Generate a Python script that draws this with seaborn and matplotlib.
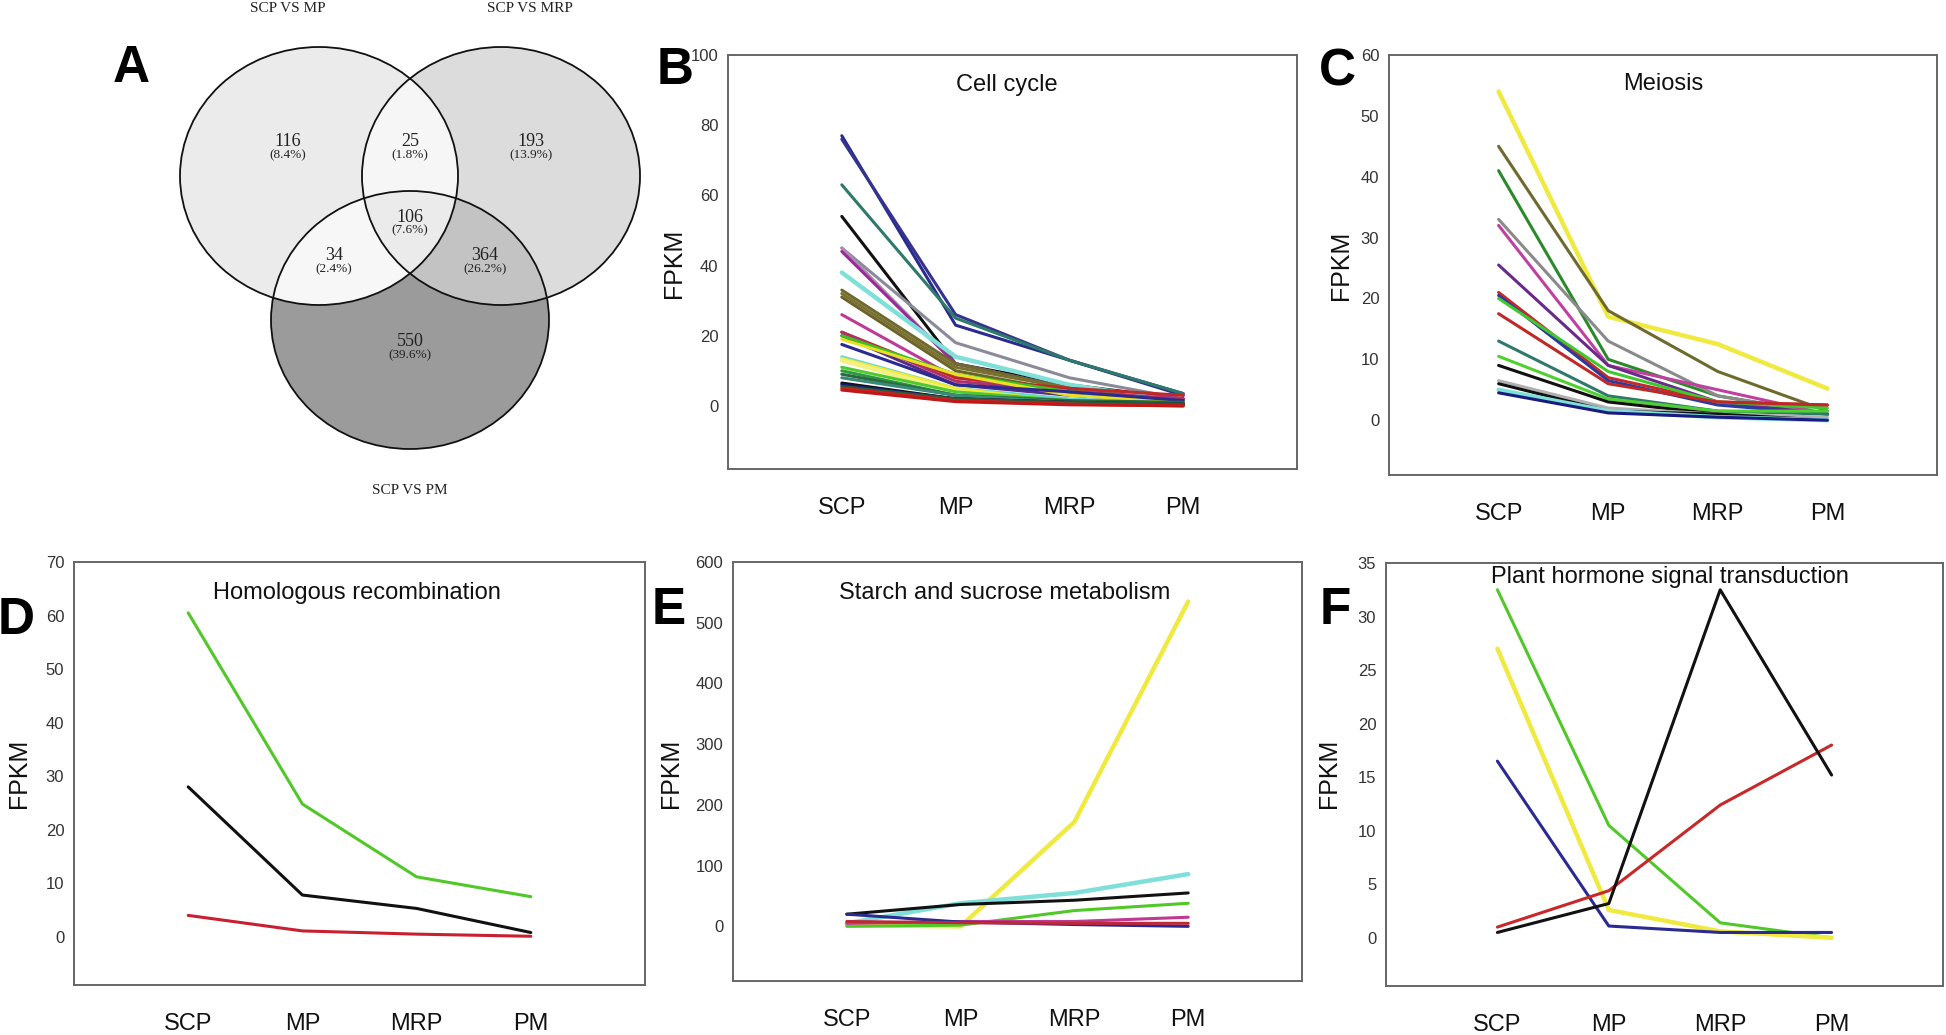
import numpy as np
import pandas as pd
import seaborn as sns
import matplotlib.pyplot as plt
from matplotlib.patches import Ellipse

# ================= DATA =================
STAGES = ['SCP', 'MP', 'MRP', 'PM']

venn_sets = ['SCP VS MP', 'SCP VS MRP', 'SCP VS PM']
# regions: MP only, MP&MRP, MRP only, MP&PM, all, MRP&PM, PM only
venn_counts = [116, 25, 193, 34, 106, 364, 550]
venn_pcts = ['8.4%', '1.8%', '13.9%', '2.4%', '7.6%', '26.2%', '39.6%']

cell_cycle = [
    [77, 23, 13, 3], [76, 26, 13, 3.5], [63, 25, 13, 3.5], [54, 12, 6, 2],
    [45, 18, 8, 2], [45, 12, 5, 1.5], [44, 12, 5, 2], [38, 14, 6, 1],
    [33, 12, 5, 1], [32, 11, 5, 1], [31, 10, 4, 0.5], [26, 8, 4, 1],
    [21, 8, 5, 3], [21, 7, 4, 2], [20, 6, 3, 1], [20, 9, 4, 1],
    [19, 9, 3, 1], [17.5, 6, 4, 1.5], [14, 5, 2, 0.5], [13.5, 5, 1, 0],
    [13, 4, 1, 0], [11, 4, 1.5, 0.5], [10, 3, 1, 0.3], [9, 3, 1.5, 1],
    [8, 3, 1, 0.5], [6.5, 2, 1, 0.5], [6, 2, 1, 0.3], [5.5, 2, 1, 0.5],
    [5, 1.5, 0.5, 0], [4.5, 1.2, 0.3, 0],
]
cell_cycle_colors = [
    '#2b2b8f', '#34348f', '#2e7a6a', '#111111',
    '#8a8a99', '#b08ab0', '#9a2a9a', '#7ee0d8',
    '#6e6a2e', '#7a7030', '#6a6428', '#c03898',
    '#c02828', '#b0306a', '#5a2a8a', '#3ec020',
    '#e8e020', '#2a2a90', '#6ad8d0', '#f0ea30',
    '#f4f080', '#50c830', '#2a9a3a', '#2a6a40',
    '#3a8a7a', '#111111', '#1a1a70', '#2a5a3a',
    '#d02020', '#c01818',
]

meiosis = [
    [54, 17, 12.5, 5.2], [45, 18, 8, 1.5], [41, 10, 4, 1], [33, 13, 4, 1],
    [32, 9, 5, 1], [25.5, 9, 3, 1], [21, 7, 3, 2.5], [20.5, 6.5, 2.5, 1],
    [20, 8, 3, 2], [17.5, 6, 3, 2.5], [13, 4, 1.5, 1], [10.5, 3.5, 1.5, 1.5],
    [9, 3, 1, 0], [6.5, 2, 1, 0.5], [6, 1.5, 1, 0], [5, 1.5, 0.5, 0],
    [4.5, 1.2, 0.5, 0],
]
meiosis_colors = [
    '#f0ea40', '#6e6a2e', '#2a8a2a', '#8a8a8a',
    '#c040a0', '#6a2a8a', '#c82828', '#2a3aa0',
    '#40c830', '#c02828', '#2e7a6a', '#50d030',
    '#111111', '#b0b0b0', '#111111', '#7ee0d8',
    '#1a1a80',
]

homologous = [[60.5, 24.8, 11.2, 7.5], [28, 7.8, 5.3, 0.8], [4, 1.1, 0.5, 0.1]]
homologous_colors = ['#50c828', '#111111', '#c82030']

starch = [
    [2, 0, 172, 535], [5, 38, 55, 86], [20, 36, 43, 55], [0, 2, 26, 38],
    [5, 8, 8, 15], [20, 7, 3, 0], [8, 6, 5, 5],
]
starch_colors = ['#f0ea40', '#7ee0d8', '#111111', '#50c828',
                 '#c03890', '#2a2a90', '#c02838']

hormone = [
    [32.5, 10.5, 1.4, 0], [27, 2.6, 0.6, 0], [16.5, 1.1, 0.5, 0.5],
    [1, 4.4, 12.4, 18], [0.5, 3.2, 32.5, 15.2],
]
hormone_colors = ['#50c828', '#f0ea40', '#2a2a90', '#c82828', '#111111']

# ================= FIGURE =================
sns.set_style('white')
plt.rcParams['font.family'] = ['Liberation Sans', 'DejaVu Sans']

W, H = 1946, 1035
fig = plt.figure(figsize=(W / 100, H / 100), dpi=100)


def px_rect(l, t, r, b):
    return [l / W, 1 - b / H, (r - l) / W, (b - t) / H]


def draw_panel(box, title, tpos, series, colors, ylim, yticks, letter, lpos, ylab_pos):
    ax = fig.add_axes(px_rect(*box))
    for vals, c in zip(series, colors):
        lw = 3.2 if c in ('#7ee0d8', '#f0ea40', '#f4f080') else 2.2
        df = pd.DataFrame({'pos': range(len(STAGES)), 'FPKM': vals})
        sns.lineplot(data=df, x='pos', y='FPKM', color=c, lw=lw, ax=ax)
    ax.set_xlim(-1, 4)
    ax.set_ylim(*ylim)
    ax.set_xticks(range(len(STAGES)))
    ax.set_xticklabels(STAGES, fontsize=17, color='#111111')
    ax.set_yticks(yticks)
    ax.set_yticklabels([str(t) for t in yticks], fontsize=12, color='#333333',
                       family=['Liberation Sans Narrow', 'Liberation Sans'])
    ax.set_xlabel('')
    ax.set_ylabel('')
    ax.tick_params(axis='x', direction='out', length=8, width=1.2, color='#666666', pad=12)
    ax.tick_params(axis='y', direction='out', length=4, width=1.0, color='#666666', pad=3)
    for s in ax.spines.values():
        s.set_color('#666666')
        s.set_linewidth(1.4)
    ax.text(tpos[0], tpos[1], title, transform=ax.transAxes, ha='center',
            va='center', fontsize=17, color='#111111')
    fig.text(lpos[0] / W, 1 - lpos[1] / H, letter, ha='center', va='center',
             fontsize=37, fontweight='bold', color='black')
    fig.text(ylab_pos[0] / W, 1 - ylab_pos[1] / H, 'FPKM', rotation=90,
             ha='center', va='center', fontsize=18, color='#111111')
    return ax


draw_panel((728, 55, 1297, 469), 'Cell cycle', (0.49, 0.928), cell_cycle,
           cell_cycle_colors, (-18, 100), range(0, 101, 20), 'B', (675, 70), (674, 263))
draw_panel((1389, 55, 1937, 475), 'Meiosis', (0.50, 0.93), meiosis,
           meiosis_colors, (-9, 60), range(0, 61, 10), 'C', (1337, 72), (1341, 265))
draw_panel((74, 562, 645, 985), 'Homologous recombination', (0.496, 0.927), homologous,
           homologous_colors, (-9, 70), range(0, 71, 10), 'D', (16, 620), (19, 773))
draw_panel((733, 562, 1302, 981), 'Starch and sucrose metabolism', (0.478, 0.927), starch,
           starch_colors, (-90, 600), range(0, 601, 100), 'E', (669, 610), (671, 773))
draw_panel((1386, 563, 1943, 986), 'Plant hormone signal transduction', (0.51, 0.967), hormone,
           hormone_colors, (-4.5, 35), range(0, 36, 5), 'F', (1335, 610), (1329, 773))

# ================= VENN (panel A) =================
vx = fig.add_axes(px_rect(0, 0, 680, 510))
vx.set_xlim(0, 680)
vx.set_ylim(510, 0)
vx.axis('off')

centers = [(319, 176), (501, 176), (410, 320)]
a, b = 139, 129
gx, gy = np.meshgrid(np.arange(680) + 0.5, np.arange(510) + 0.5)
inside = [((gx - cx) / a) ** 2 + ((gy - cy) / b) ** 2 <= 1 for cx, cy in centers]
L, R, Bt = inside
img = np.ones((510, 680, 3))
region_colors = [
    (L & ~R & ~Bt, '#ebebeb'), (~L & R & ~Bt, '#dcdcdc'), (~L & ~R & Bt, '#9b9b9b'),
    (L & R & ~Bt, '#f6f6f6'), (L & ~R & Bt, '#f7f7f7'), (~L & R & Bt, '#c3c3c3'),
    (L & R & Bt, '#ebebeb'),
]
for mask, col in region_colors:
    img[mask] = plt.matplotlib.colors.to_rgb(col)
vx.imshow(img, extent=(0, 680, 510, 0), interpolation='bilinear', aspect='auto')
for cx, cy in centers:
    vx.add_patch(Ellipse((cx, cy), 2 * a, 2 * b, fill=False, ec='#111111', lw=1.3))

serif = ['Liberation Serif', 'DejaVu Serif']
num_pos = [(288, 142), (410, 142), (531, 142), (334, 256), (410, 217), (485, 256), (410, 342)]
for (x, y), n, p in zip(num_pos, venn_counts, venn_pcts):
    vx.text(x, y, str(n), ha='center', va='center', fontsize=13, family=serif, color='#222222')
    vx.text(x, y + 13, '(' + p + ')', ha='center', va='center', fontsize=9.5,
            family=serif, color='#222222')
for (x, y), lab in zip([(288, 8), (530, 8), (410, 490)], venn_sets):
    vx.text(x, y, lab, ha='center', va='center', fontsize=11, family=serif, color='#222222')
fig.text(131 / W, 1 - 68 / H, 'A', ha='center', va='center', fontsize=37,
         fontweight='bold', color='black')

fig.savefig('out.png', dpi=100)
